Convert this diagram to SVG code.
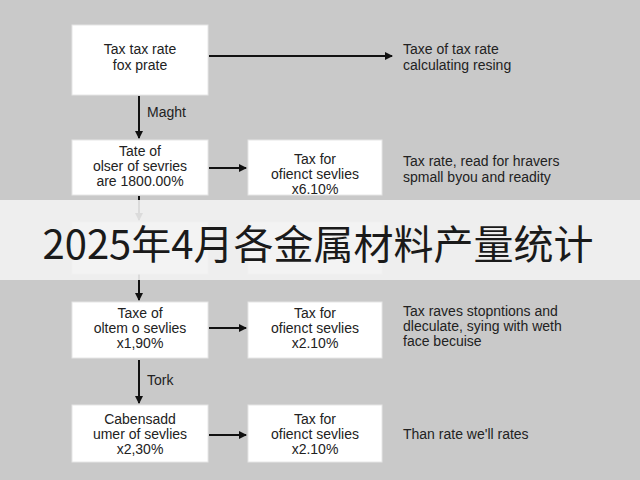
<svg xmlns="http://www.w3.org/2000/svg" width="640" height="480" viewBox="0 0 640 480">
<defs>
<marker id="ah" markerWidth="8" markerHeight="8" refX="7" refY="4" orient="auto" markerUnits="userSpaceOnUse"><path d="M0,0 L8,4 L0,8 z" fill="#111"/></marker>
<style>
.box{fill:#fff;stroke:#e6e6e6;stroke-width:1}
.t{font-family:"Liberation Sans",Arial,sans-serif;font-size:14px;fill:#222;text-anchor:middle}
.r{font-family:"Liberation Sans",Arial,sans-serif;font-size:14px;fill:#222}
.c{stroke:#111;stroke-width:2;fill:none;marker-end:url(#ah)}
</style>
</defs>
<rect width="640" height="480" fill="#c9c9c9"/>
<g id="connectors">
<line class="c" x1="209" y1="56" x2="392" y2="56"/>
<line class="c" x1="139" y1="96" x2="139" y2="138"/>
<line class="c" x1="209" y1="168" x2="246" y2="168"/>
<line class="c" x1="139" y1="196" x2="139" y2="220"/>
<line class="c" x1="139" y1="273" x2="139" y2="300"/>
<line class="c" x1="209" y1="328" x2="246" y2="328"/>
<line class="c" x1="139" y1="360" x2="139" y2="403"/>
<line class="c" x1="209" y1="435" x2="246" y2="435"/>
</g>
<text class="r" x="147" y="117">Maght</text>
<text class="r" x="147" y="385">Tork</text>
<g id="n1"><rect class="box" x="72" y="25" width="136" height="70"/><text class="t" x="140" y="54">Tax tax rate</text><text class="t" x="140" y="70">fox prate</text></g>
<g id="n2"><text class="r" x="403" y="54">Taxe of tax rate</text><text class="r" x="403" y="70">calculating resing</text></g>
<g id="n3"><rect class="box" x="72" y="140" width="136" height="55"/><text class="t" x="140" y="156">Tate of</text><text class="t" x="140" y="171">olser of sevries</text><text class="t" x="140" y="186">are 1800.00%</text></g>
<g id="n4"><rect class="box" x="248" y="140" width="134" height="55"/><text class="t" x="315" y="164">Tax for</text><text class="t" x="315" y="179">ofienct sevlies</text><text class="t" x="315" y="194">x6.10%</text></g>
<g id="n5"><text class="r" x="403" y="166">Tax rate, read for hravers</text><text class="r" x="403" y="182">spmall byou and readity</text></g>
<g id="n6"><rect class="box" x="72" y="222" width="136" height="52"/><rect class="box" x="248" y="222" width="134" height="52"/></g>
<rect x="0" y="200" width="640" height="80" fill="#f2f2f2" opacity="0.9"/>
<text x="318" y="259" font-family="'Noto Sans CJK SC',sans-serif" font-size="40" fill="#1a1a1a" text-anchor="middle">2025年4月各金属材料产量统计</text>
<g id="n7"><rect class="box" x="72" y="302" width="136" height="56"/><text class="t" x="140" y="318">Taxe of</text><text class="t" x="140" y="333">oltem o sevlies</text><text class="t" x="140" y="348">x1,90%</text></g>
<g id="n8"><rect class="box" x="248" y="302" width="134" height="56"/><text class="t" x="315" y="318">Tax for</text><text class="t" x="315" y="333">ofienct sevlies</text><text class="t" x="315" y="348">x2.10%</text></g>
<g id="n9"><text class="r" x="403" y="316">Tax raves stopntions and</text><text class="r" x="403" y="331">dleculate, sying with weth</text><text class="r" x="403" y="346">face becuise</text></g>
<g id="n10"><rect class="box" x="72" y="405" width="136" height="57"/><text class="t" x="140" y="424">Cabensadd</text><text class="t" x="140" y="439">umer of sevlies</text><text class="t" x="140" y="454">x2,30%</text></g>
<g id="n11"><rect class="box" x="248" y="405" width="134" height="57"/><text class="t" x="315" y="424">Tax for</text><text class="t" x="315" y="439">ofienct sevlies</text><text class="t" x="315" y="454">x2.10%</text></g>
<g id="n12"><text class="r" x="403" y="439">Than rate we'll rates</text></g>
</svg>
